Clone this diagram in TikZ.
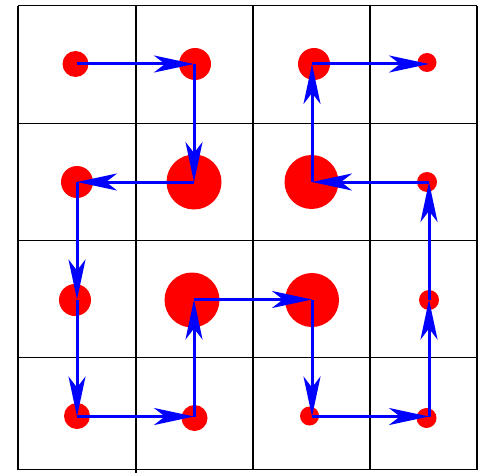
\documentclass[tikz,border=0pt]{standalone}
\usetikzlibrary{arrows.meta}
\begin{document}
\begin{tikzpicture}[x=1pt,y=-1pt,
  gridline/.style={black,line width=1.4pt},
  dot/.style={circle,fill=red,draw=none,inner sep=0pt,minimum size=#1},
  link/.style={draw=blue,line width=3pt,-{Stealth[length=40pt,width=17pt,inset=11pt]}}]
\useasboundingbox (0,0) rectangle (481,473);
% grid
\foreach \x in {18,136,253,370,477} \draw[gridline] (\x,5.7) -- (\x,469.5);
\draw[gridline] (136,469.5) -- (136,473);
\foreach \y in {5.7,123.5,240.7,357.7,469.5} \draw[gridline] (18,\y) -- (477,\y);
% dots
\node[dot=26pt] (a11) at (75.5,64) {};
\node[dot=32pt] (a21) at (195,64) {};
\node[dot=32pt] (a31) at (314,64) {};
\node[dot=19pt] (a41) at (427,62.5) {};
\node[dot=32pt] (a12) at (77,182) {};
\node[dot=55pt] (a22) at (194,182) {};
\node[dot=54pt] (a32) at (311.5,182) {};
\node[dot=20pt] (a42) at (427,182) {};
\node[dot=32pt] (a13) at (75,300) {};
\node[dot=55pt] (a23) at (192,300) {};
\node[dot=54pt] (a33) at (312,300) {};
\node[dot=20pt] (a43) at (429,300) {};
\node[dot=26pt] (a14) at (77,416) {};
\node[dot=26pt] (a24) at (194.5,418) {};
\node[dot=19pt] (a34) at (309.5,416) {};
\node[dot=20pt] (a44) at (426.5,418) {};
% path points
\coordinate (p11) at (77,64);
\coordinate (p21) at (194,64);
\coordinate (p31) at (312,64);
\coordinate (p41) at (429,64);
\coordinate (p12) at (77,182);
\coordinate (p22) at (194,182);
\coordinate (p32) at (312,182);
\coordinate (p42) at (429,182);
\coordinate (p13) at (77,299.5);
\coordinate (p23) at (194,299.5);
\coordinate (p33) at (312,299.5);
\coordinate (p43) at (429,299.5);
\coordinate (p14) at (77,416.5);
\coordinate (p24) at (194,416.5);
\coordinate (p34) at (312,416.5);
\coordinate (p44) at (429,416.5);
% path
\draw[link] (p11) -- (p21);
\draw[link] (p21) -- (p22);
\draw[link] (p22) -- (p12);
\draw[link] (p12) -- (p13);
\draw[link] (p13) -- (p14);
\draw[link] (p14) -- (p24);
\draw[link] (p24) -- (p23);
\draw[link] (p23) -- (p33);
\draw[link] (p33) -- (p34);
\draw[link] (p34) -- (p44);
\draw[link] (p44) -- (p43);
\draw[link] (p43) -- (p42);
\draw[link] (p42) -- (p32);
\draw[link] (p32) -- (p31);
\draw[link] (p31) -- (p41);
\end{tikzpicture}
\end{document}
